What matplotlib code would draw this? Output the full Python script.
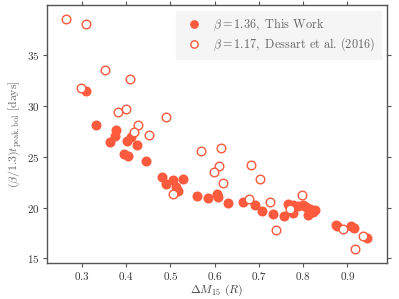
import matplotlib
matplotlib.use("Agg")
import matplotlib.pyplot as plt

# delta M15 (R) a (beta/1.3) t_peak,bol pro oba soubory
dm15_this = [0.310, 0.331, 0.363, 0.376, 0.378, 0.396, 0.403, 0.405, 0.411, 0.425,
             0.445, 0.481, 0.491, 0.506, 0.512, 0.518, 0.528, 0.561, 0.585, 0.605,
             0.607, 0.631, 0.664, 0.691, 0.707, 0.731, 0.757, 0.765, 0.777, 0.777,
             0.788, 0.800, 0.806, 0.810, 0.815, 0.822, 0.827, 0.874, 0.877, 0.908,
             0.915, 0.945]
tpk_this = [31.5, 28.1, 26.5, 27.05, 27.6, 25.3, 26.6, 25.05, 26.9, 26.2,
            24.6, 23.0, 22.35, 22.75, 22.05, 21.65, 22.8, 21.15, 20.95, 21.3,
            21.0, 20.5, 20.55, 20.25, 19.65, 19.4, 19.15, 20.35, 20.25, 19.45,
            20.2, 20.3, 20.1, 19.25, 19.85, 19.6, 19.8, 18.3, 18.15, 18.2,
            18.0, 17.0]

dm15_dessart = [0.264, 0.310, 0.353, 0.408, 0.298, 0.382, 0.400, 0.490, 0.427, 0.418,
                0.452, 0.569, 0.614, 0.609, 0.598, 0.618, 0.507, 0.682, 0.703, 0.677,
                0.725, 0.738, 0.770, 0.797, 0.889, 0.935, 0.916]
tpk_dessart = [38.55, 38.1, 33.5, 32.65, 31.8, 29.45, 29.65, 28.95, 28.1, 27.4,
               27.15, 25.6, 25.9, 24.1, 23.55, 22.45, 21.35, 24.2, 22.85, 20.8,
               20.6, 17.8, 19.9, 21.25, 17.9, 17.2, 15.95]

xticks = [0.3, 0.4, 0.5, 0.6, 0.7, 0.8, 0.9]
yticks = [15, 20, 25, 30, 35]

plt.rcParams["font.family"] = "cmr10"
plt.rcParams["mathtext.fontset"] = "cm"
plt.rcParams["axes.formatter.use_mathtext"] = True

color = "#fd5a3e"
gray = "#555555"

fig = plt.figure(figsize=(3.99, 2.99), dpi=100)
ax = fig.add_axes([0.1185, 0.121, 0.851, 0.862])

ax.plot(dm15_this, tpk_this, "o", ms=6.2, color=color, mec=color,
        label=r"$\beta = 1.36,$ This Work")
ax.plot(dm15_dessart, tpk_dessart, "o", ms=6.2, mfc="white", mec=color, mew=1.0,
        label=r"$\beta = 1.17,$ Dessart et al. (2016)")

ax.set_xlim(0.222, 0.989)
ax.set_ylim(14.57, 39.92)
ax.set_xticks(xticks)
ax.set_yticks(yticks)
ax.tick_params(direction="out", length=3, width=0.8, color=gray, labelcolor="#333333",
               labelsize=8, top=True, right=True, pad=2.5)
for s in ax.spines.values():
    s.set_color(gray)
    s.set_linewidth(1.0)

ax.set_xlabel(r"$\Delta M_{15}$ $(R)$", fontsize=8.5, color="#444444", labelpad=0.5)
ax.set_ylabel(r"$(\beta/1.3)t_{\rm peak,bol}$ [days]", fontsize=8.5, color="#666666",
              labelpad=3)

leg = ax.legend(loc="upper right", fontsize=8.8, frameon=True, fancybox=False,
                facecolor="#f5f5f5", edgecolor="#f5f5f5", framealpha=1,
                handletextpad=0.6, borderpad=0.45, labelspacing=0.2, markerscale=0.85,
                borderaxespad=0.5)
for t in leg.get_texts():
    t.set_color("#666666")

fig.savefig("out.png", dpi=100)
